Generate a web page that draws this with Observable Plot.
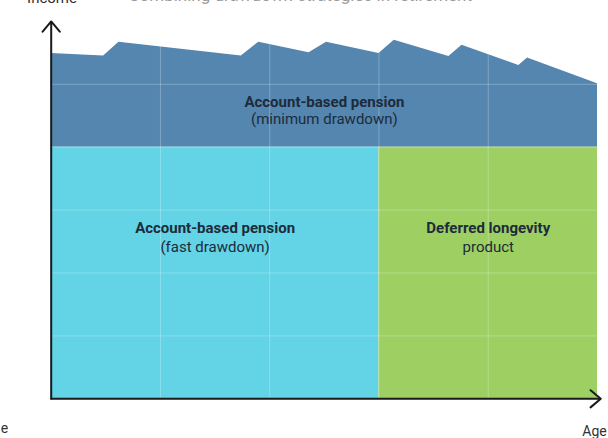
<!DOCTYPE html>
<html>
<head>
<meta charset="utf-8">
<script src="https://cdn.jsdelivr.net/npm/d3@7"></script>
<script src="https://cdn.jsdelivr.net/npm/@observablehq/plot@0.6"></script>
<style>
  html, body { margin: 0; padding: 0; background: #fff; }
  #chart svg { display: block; }
</style>
</head>
<body>
<div id="chart"></div>
<script>
// Upper band (account-based pension, minimum drawdown): ridge of total income by age
const ridgeAges   = [65, 67.4, 68.1, 73.7, 74.5, 76.8, 77.6, 80, 80.7, 83.2, 83.8, 86.4, 86.8, 90];
const ridgeIncome = [5.49, 5.45, 5.67, 5.45, 5.67, 5.50, 5.67, 5.49, 5.70, 5.44, 5.62, 5.30, 5.42, 5.01];
const baseIncome = 4;

// Lower blocks
const blockNames = ["Account-based pension (fast drawdown)", "Deferred longevity product"];
const blockStart = [65, 80];
const blockEnd   = [80, 90];
const blockTop   = [4, 4];
const blockColors = ["#63d3e6", "#9ecf63"];

// Labels (bold first line, regular second line)
const labelX      = [77.5, 72.5, 85];
const labelBold   = ["Account-based pension", "Account-based pension", "Deferred longevity"];
const labelBoldY  = [4.72, 2.71, 2.71];
const labelSub    = ["(minimum drawdown)", "(fast drawdown)", "product"];
const labelSubY   = [4.44, 2.41, 2.41];

// Grid ticks
const ageTicks = [70, 75, 80, 85];
const incomeTicks = [1, 2, 3, 4, 5];

// Axis arrows
const axisX1 = [65, 65], axisY1 = [0, 0], axisX2 = [90.15, 65], axisY2 = [0, 6];

const ridge = ridgeAges.map((a, i) => ({age: a, income: ridgeIncome[i]}));
const blocks = blockNames.map((n, i) => ({name: n, x1: blockStart[i], x2: blockEnd[i], y2: blockTop[i], color: blockColors[i]}));
const labels = labelX.map((x, i) => ({x, bold: labelBold[i], by: labelBoldY[i], sub: labelSub[i], sy: labelSubY[i]}));
const axes = axisX1.map((x, i) => ({x1: x, y1: axisY1[i], x2: axisX2[i], y2: axisY2[i]}));

const chart = Plot.plot({
  width: 608,
  height: 438,
  marginLeft: 50.7,
  marginRight: 11,
  marginTop: 20.9,
  marginBottom: 39.7,
  style: {fontFamily: "Roboto, sans-serif", background: "#fff", overflow: "visible"},
  x: {domain: [65, 90], axis: null},
  y: {domain: [0, 6], axis: null},
  marks: [
    Plot.areaY(ridge, {x: "age", y1: baseIncome, y2: "income", fill: "#5486b0"}),
    Plot.rect(blocks, {x1: "x1", x2: "x2", y1: 0, y2: "y2", fill: "color"}),
    Plot.ruleX(ageTicks, {stroke: "#ffffff", strokeOpacity: 0.25, strokeWidth: 1}),
    Plot.ruleY(incomeTicks, {stroke: "#ffffff", strokeOpacity: 0.25, strokeWidth: 1}),
    Plot.text(labels, {x: "x", y: "by", text: "bold", fontWeight: "bold", fontSize: 15, fill: "#1d2b3a"}),
    Plot.text(labels, {x: "x", y: "sy", text: "sub", fontSize: 15, fill: "#1d2b3a"}),
    Plot.arrow(axes, {x1: "x1", y1: "y1", x2: "x2", y2: "y2", stroke: "#1a1a1a", strokeWidth: 2, headLength: 10, headAngle: 80}),
    Plot.text(["Income"], {frameAnchor: "top-left", dx: 0.8, dy: -18, lineAnchor: "bottom", textAnchor: "middle", fontSize: 15, fill: "#333"}),
    Plot.text(["Combining drawdown strategies in retirement"], {frameAnchor: "top-left", dx: 77.3, dy: -20, lineAnchor: "bottom", textAnchor: "start", fontSize: 17, fill: "#9a9a9a"}),
    Plot.text(["Age"], {frameAnchor: "bottom-right", dx: -3, dy: 37.5, lineAnchor: "bottom", textAnchor: "middle", fontSize: 14, fill: "#333"}),
    Plot.text(["e"], {frameAnchor: "bottom-left", dx: -46.7, dy: 34.5, lineAnchor: "bottom", textAnchor: "middle", fontSize: 14, fill: "#333"})
  ]
});
document.getElementById("chart").appendChild(chart);
</script>
</body>
</html>
